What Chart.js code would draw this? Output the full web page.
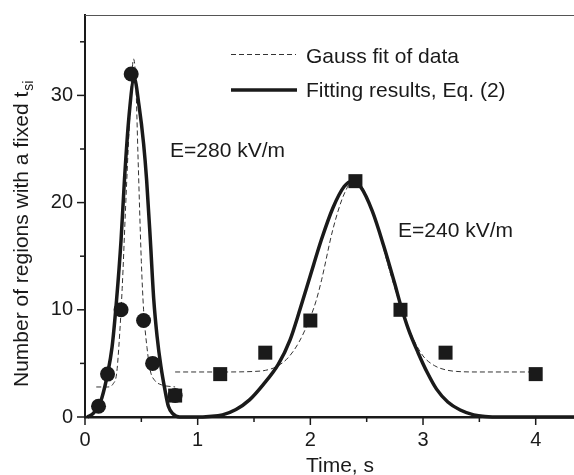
<!DOCTYPE html>
<html>
<head>
<meta charset="utf-8">
<script src="https://cdn.jsdelivr.net/npm/chart.js@4.4.1/dist/chart.umd.min.js"></script>
<style>
  html, body { margin: 0; padding: 0; background: #fff; }
  canvas { display: block; }
</style>
</head>
<body>
<canvas id="chart" width="574" height="475"></canvas>
<script>
// measured data, E=280 kV/m (circles) and E=240 kV/m (squares)
const circleX = [0.12, 0.2, 0.32, 0.41, 0.52, 0.6, 0.8];
const circleY = [1, 4, 10, 32, 9, 5, 2];
const squareX = [0.8, 1.2, 1.6, 2.0, 2.4, 2.8, 3.2, 4.0];
const squareY = [2, 4, 6, 9, 22, 10, 6, 4];

// Gauss fit of data (dashed)
const gauss1X = [0.1, 0.2, 0.25, 0.28, 0.3, 0.33, 0.36, 0.39, 0.42, 0.43, 0.45, 0.47, 0.5, 0.52, 0.55, 0.58, 0.62, 0.68, 0.8];
const gauss1Y = [2.8, 2.8, 3.1, 4.0, 6.5, 12, 19.5, 26.5, 32.5, 33.4, 31.5, 24.5, 14.5, 10, 6.5, 4.3, 3.4, 3.0, 2.8];
const gauss2X = [0.8, 1.2, 1.5, 1.6, 1.7, 1.8, 1.9, 2.0, 2.05, 2.1, 2.2, 2.3, 2.38, 2.45, 2.5, 2.6, 2.7, 2.8, 2.9, 3.0, 3.1, 3.2, 3.3, 3.5, 4.0];
const gauss2Y = [4.2, 4.2, 4.25, 4.35, 4.7, 5.5, 7.0, 9.3, 10.8, 12.8, 17.5, 20.8, 22.0, 21.6, 20.6, 17.6, 13.8, 10.4, 7.6, 5.7, 4.8, 4.4, 4.25, 4.2, 4.2];

// Fitting results, Eq. (2) (solid)
const fitX = [0.02, 0.07, 0.12, 0.15, 0.2, 0.24, 0.28, 0.32, 0.35, 0.39, 0.437, 0.48, 0.52, 0.547, 0.58, 0.61, 0.64, 0.674, 0.71, 0.74, 0.78, 0.84, 1.0,
  1.1, 1.22, 1.34, 1.46, 1.58, 1.715, 1.82, 1.907, 2.0, 2.1, 2.2, 2.3, 2.37, 2.45, 2.55, 2.65, 2.75, 2.8, 2.87, 2.956, 3.04, 3.12, 3.22, 3.33, 3.45, 3.55, 3.7, 4.34];
const fitY = [0, 0.3, 1.0, 1.8, 4.0, 6.5, 10.9, 16.5, 22.1, 28, 31.6, 29, 25.5, 22.1, 16.5, 11, 7.5, 4.7, 2.5, 1.0, 0.3, 0, 0,
  0.05, 0.2, 0.7, 1.6, 3.0, 4.9, 7.2, 10, 13.2, 16.6, 19.5, 21.5, 22.0, 21.4, 19.2, 16.0, 12.4, 10.5, 8.2, 6.0, 4.1, 2.6, 1.4, 0.65, 0.2, 0.05, 0, 0];

const xMax = 4.34;
const yMax = 37.5;

function pts(xs, ys) {
  return xs.map((x, i) => ({ x: x, y: ys[i] }));
}

const FONT = '"Liberation Sans", Arial, Helvetica, sans-serif';
const INK = '#1a1a1a';

// keep the plot box where the reference has it
function noPad(scale) {
  scale.paddingTop = 0;
  scale.paddingRight = 0;
  scale.paddingLeft = 0;
  scale.paddingBottom = 0;
}

// frame, tick marks, titles, legend and labels
const decor = {
  id: 'decor',
  afterDraw(chart) {
    const ctx = chart.ctx;
    const a = chart.chartArea;
    const xs = chart.scales.x;
    const ys = chart.scales.y;
    ctx.save();

    ctx.strokeStyle = '#555';
    ctx.lineWidth = 1;
    ctx.beginPath();
    ctx.moveTo(a.left, a.top + 0.5);
    ctx.lineTo(a.right, a.top + 0.5);
    ctx.stroke();

    ctx.strokeStyle = INK;
    ctx.lineWidth = 1.5;
    xs.ticks.forEach((t) => {
      const px = xs.getPixelForValue(t.value);
      const len = Number.isInteger(t.value) ? 8 : 5;
      ctx.beginPath();
      ctx.moveTo(px, a.bottom);
      ctx.lineTo(px, a.bottom + len);
      ctx.stroke();
    });
    ys.ticks.forEach((t) => {
      const py = ys.getPixelForValue(t.value);
      const len = t.value % 10 === 0 ? 8 : 5;
      ctx.beginPath();
      ctx.moveTo(a.left, py);
      ctx.lineTo(a.left - len, py);
      ctx.stroke();
    });

    ctx.fillStyle = INK;
    ctx.textBaseline = 'alphabetic';

    // x title
    ctx.font = '21px ' + FONT;
    ctx.textAlign = 'center';
    ctx.fillText('Time, s', 340, 472);

    // y title with subscript
    ctx.save();
    ctx.translate(28, 387);
    ctx.rotate(-Math.PI / 2);
    ctx.textAlign = 'left';
    ctx.font = '21px ' + FONT;
    const main = 'Number of regions with a fixed t';
    ctx.fillText(main, 0, 0);
    const w = ctx.measureText(main).width;
    ctx.font = '14px ' + FONT;
    ctx.fillText('si', w + 1, 5);
    ctx.restore();

    // legend
    ctx.textAlign = 'left';
    ctx.font = '21px ' + FONT;
    ctx.strokeStyle = '#333';
    ctx.lineWidth = 1;
    ctx.setLineDash([5, 3]);
    ctx.beginPath();
    ctx.moveTo(231, 54.5);
    ctx.lineTo(296, 54.5);
    ctx.stroke();
    ctx.setLineDash([]);
    ctx.strokeStyle = INK;
    ctx.lineWidth = 3.5;
    ctx.beginPath();
    ctx.moveTo(231, 90);
    ctx.lineTo(297, 90);
    ctx.stroke();
    ctx.fillText('Gauss fit of data', 306, 63);
    ctx.fillText('Fitting results, Eq. (2)', 306, 97);

    // field labels
    ctx.fillText('E=280 kV/m', 170, 157);
    ctx.fillText('E=240 kV/m', 398, 237);

    ctx.restore();
  }
};

new Chart(document.getElementById('chart'), {
  type: 'scatter',
  data: {
    datasets: [
      {
        label: 'E=280 kV/m',
        data: pts(circleX, circleY),
        pointStyle: 'circle',
        pointRadius: 7.5,
        backgroundColor: INK,
        borderColor: INK,
        borderWidth: 0,
        clip: false,
        order: 0
      },
      {
        label: 'E=240 kV/m',
        data: pts(squareX, squareY),
        pointStyle: 'rect',
        pointRadius: 9.9,
        backgroundColor: INK,
        borderColor: INK,
        borderWidth: 0,
        clip: false,
        order: 0
      },
      {
        label: 'Gauss fit of data',
        data: pts(gauss1X, gauss1Y),
        showLine: true,
        pointRadius: 0,
        borderColor: '#333',
        borderWidth: 1,
        borderDash: [5, 3],
        cubicInterpolationMode: 'monotone',
        order: 2
      },
      {
        label: 'Gauss fit of data',
        data: pts(gauss2X, gauss2Y),
        showLine: true,
        pointRadius: 0,
        borderColor: '#333',
        borderWidth: 1,
        borderDash: [5, 3],
        cubicInterpolationMode: 'monotone',
        order: 2
      },
      {
        label: 'Fitting results, Eq. (2)',
        data: pts(fitX, fitY),
        showLine: true,
        pointRadius: 0,
        borderColor: INK,
        borderWidth: 3.5,
        cubicInterpolationMode: 'monotone',
        clip: false,
        order: 1
      }
    ]
  },
  options: {
    responsive: false,
    animation: false,
    events: [],
    layout: { autoPadding: false, padding: { top: 15, left: 0, right: 0, bottom: 0 } },
    plugins: {
      legend: { display: false },
      tooltip: { enabled: false }
    },
    scales: {
      x: {
        type: 'linear',
        min: 0,
        max: xMax,
        afterFit: (scale) => { scale.height = 58; noPad(scale); },
        grid: { drawOnChartArea: false, drawTicks: false },
        border: { display: true, width: 2.5, color: INK },
        ticks: {
          stepSize: 0.5,
          includeBounds: false,
          maxRotation: 0,
          autoSkip: false,
          padding: 11,
          color: INK,
          font: { family: FONT, size: 20 },
          callback: (v) => (Number.isInteger(v) ? v : '')
        }
      },
      y: {
        type: 'linear',
        min: 0,
        max: yMax,
        afterFit: (scale) => { scale.width = 85; noPad(scale); },
        grid: { drawOnChartArea: false, drawTicks: false },
        border: { display: true, width: 2, color: INK },
        ticks: {
          stepSize: 5,
          includeBounds: false,
          autoSkip: false,
          padding: 12,
          color: INK,
          font: { family: FONT, size: 20 },
          callback: (v) => (v % 10 === 0 ? v : '')
        }
      }
    }
  },
  plugins: [decor]
});
</script>
</body>
</html>
